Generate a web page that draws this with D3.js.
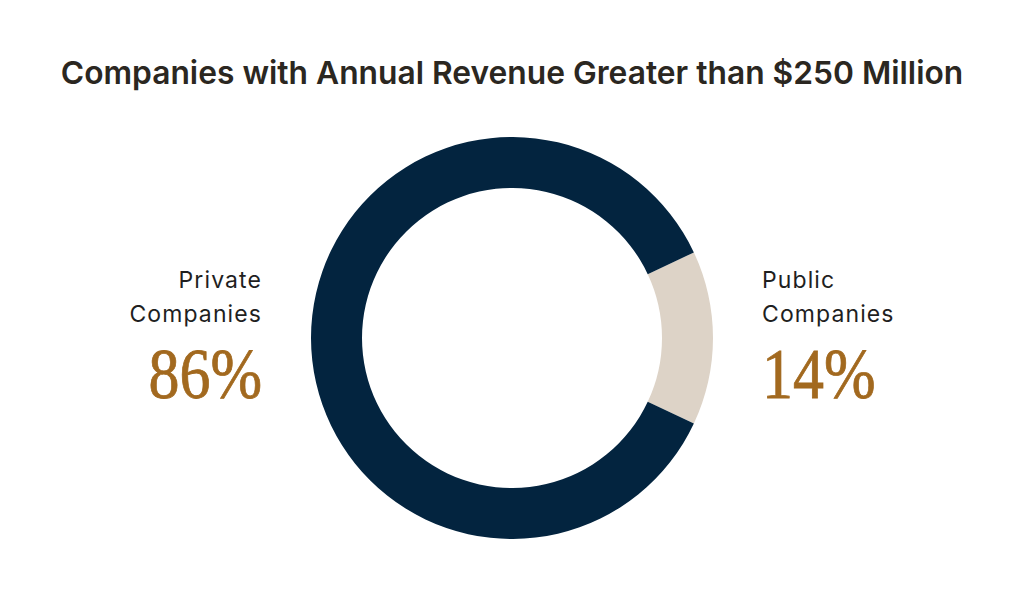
<!DOCTYPE html>
<html>
<head>
<meta charset="utf-8">
<script src="https://cdn.jsdelivr.net/npm/d3@7"></script>
<style>
  html, body { margin: 0; padding: 0; background: #fff; }
</style>
</head>
<body>
<div id="chart"></div>
<script>
const categories = ["Public Companies", "Private Companies"];
const shares = [14, 86];
const labelLines = [["Public", "Companies"], ["Private", "Companies"]];
const colors = ["#ddd3c7", "#03243f"];

const width = 1024;
const height = 595;
const cx = 512, cy = 338;
const outerR = 201, innerR = 150;

const svg = d3.select("#chart")
  .append("svg")
  .attr("width", width)
  .attr("height", height);

// title, fitted to the reference width
const title = svg.append("text")
  .attr("x", width / 2)
  .attr("y", 84)
  .attr("text-anchor", "middle")
  .style("font-family", "Inter, 'Open Sans', sans-serif")
  .style("font-weight", 600)
  .style("font-size", "27px")
  .style("fill", "#2b2721")
  .text("Companies with Annual Revenue Greater than $250 Million");
const tw = title.node().getComputedTextLength();
title.style("font-size", (27 * 903 / tw) + "px");

// public slice centred at 3 o'clock
const offset = Math.PI / 2 - Math.PI * shares[0] / 100;
const pie = d3.pie()
  .sort(null)
  .value(d => d)
  .startAngle(offset)
  .endAngle(offset + 2 * Math.PI);

const arc = d3.arc()
  .innerRadius(innerR)
  .outerRadius(outerR);

const g = svg.append("g")
  .attr("transform", `translate(${cx},${cy})`);

g.selectAll("path")
  .data(pie(shares))
  .enter().append("path")
  .attr("d", arc)
  .attr("fill", (d, i) => colors[i]);

// labels: public on the right, private on the left
const labelPos = [
  { x: 762, anchor: "start" },
  { x: 262, anchor: "end" }
];

categories.forEach((c, i) => {
  const p = labelPos[i];
  const lbl = svg.append("text")
    .attr("text-anchor", p.anchor)
    .style("font-family", "Inter, 'Open Sans', sans-serif")
    .style("font-size", "23px")
    .style("letter-spacing", "1.1px")
    .style("fill", "#1f1f1f");
  labelLines[i].forEach((line, j) => {
    lbl.append("tspan")
      .attr("x", p.x)
      .attr("y", 288 + j * 34)
      .text(line);
  });

  // percentage, a bit condensed like the reference serif
  const pct = svg.append("text")
    .attr("x", p.x)
    .attr("y", 398)
    .attr("text-anchor", p.anchor)
    .style("font-family", "'Liberation Serif', 'DejaVu Serif', serif")
    .style("font-size", "72px")
    .style("fill", "#a2691f")
    .style("stroke", "#a2691f")
    .style("stroke-width", 0.8)
    .text(d3.format("d")(shares[i]) + "%");
  const w = pct.node().getComputedTextLength();
  pct.attr("textLength", w * 0.86)
    .attr("lengthAdjust", "spacingAndGlyphs");
});
</script>
</body>
</html>
